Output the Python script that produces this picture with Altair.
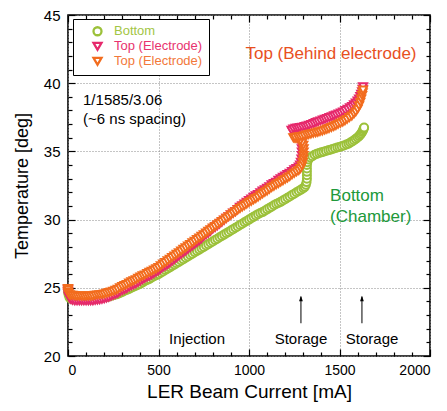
import altair as alt
import pandas as pd

W, H = 362, 341
FONT = "Liberation Sans"

# ---- series ----
series_names = ["Bottom", "Top (Electrode)", "Top (Electrode) "]
series_colors = ["#9cc13a", "#e6296c", "#f26c1e"]
series_shapes = ["circle", "triangle-down", "triangle-down"]

green_x = [0, 0, 3, 8, 15, 25, 37.5, 50, 62.5, 75, 87.5, 100, 112.5, 125, 137.5, 150, 162.5,
           175, 187.5, 200, 212.5, 225, 237.5, 250, 262.5, 275, 287.5, 300, 312.5, 325, 337.5,
           350, 362.5, 375, 387.5, 400, 412.5, 425, 437.5, 450, 462.5, 475, 487.5, 500, 512.5,
           525, 537.5, 550, 562.5, 575, 587.5, 600, 612.5, 625, 637.5, 650, 662.5, 675, 687.5,
           700, 712.5, 725, 737.5, 750, 762.5, 775, 787.5, 800, 812.5, 825, 837.5, 850, 862.5,
           875, 887.5, 900, 912.5, 925, 937.5, 950, 962.5, 975, 987.5, 1000, 1012.5, 1025,
           1037.5, 1050, 1062.5, 1075, 1087.5, 1100, 1112.5, 1125, 1137.5, 1150, 1162.5, 1175,
           1187.5, 1200, 1212.5, 1225, 1237.5, 1250, 1262.5, 1275, 1287.5, 1300, 1308, 1314,
           1318, 1320, 1320, 1320, 1320, 1320, 1322, 1328, 1338, 1350, 1362, 1375, 1388, 1400,
           1412, 1425, 1438, 1450, 1462, 1475, 1488, 1500, 1512, 1525, 1538, 1550, 1560, 1570,
           1580, 1590, 1600, 1608, 1615, 1620, 1625, 1629, 1632, 1634, 1636]
green_y = [24.9, 24.7, 24.5, 24.3, 24.2, 24.15, 24.15, 24.15, 24.15, 24.15, 24.15, 24.15,
           24.15, 24.15, 24.15, 24.2, 24.2, 24.25, 24.28, 24.3, 24.33, 24.35, 24.4, 24.45,
           24.5, 24.55, 24.62, 24.7, 24.78, 24.85, 24.92, 25.0, 25.08, 25.15, 25.22, 25.3,
           25.4, 25.5, 25.58, 25.65, 25.75, 25.85, 25.92, 26.0, 26.1, 26.2, 26.3, 26.4, 26.5,
           26.6, 26.7, 26.8, 26.9, 27.0, 27.1, 27.2, 27.3, 27.4, 27.5, 27.6, 27.7, 27.8, 27.9,
           28.0, 28.1, 28.2, 28.3, 28.4, 28.5, 28.6, 28.7, 28.8, 28.9, 29.0, 29.1, 29.2, 29.3,
           29.4, 29.5, 29.6, 29.7, 29.8, 29.9, 30.0, 30.1, 30.2, 30.3, 30.4, 30.48, 30.55,
           30.65, 30.75, 30.85, 30.95, 31.05, 31.15, 31.22, 31.3, 31.4, 31.5, 31.6, 31.7, 31.8,
           31.9, 32.0, 32.1, 32.2, 32.3, 32.4, 32.55, 32.75, 33.0, 33.25, 33.5, 33.75, 34.0,
           34.2, 34.4, 34.55, 34.65, 34.75, 34.82, 34.88, 34.93, 34.98, 35.03, 35.08, 35.13,
           35.18, 35.23, 35.28, 35.33, 35.38, 35.43, 35.5, 35.57, 35.65, 35.73, 35.82, 35.92,
           36.02, 36.12, 36.22, 36.32, 36.42, 36.52, 36.62, 36.7, 36.75, 36.7, 36.6]

pink_x = [0, 0, 0, 3, 8, 15, 25, 37.5, 50, 62.5, 75, 87.5, 100, 112.5, 125, 137.5, 150, 162.5,
          175, 187.5, 200, 212.5, 225, 237.5, 250, 262.5, 275, 287.5, 300, 312.5, 325, 337.5,
          350, 362.5, 375, 387.5, 400, 412.5, 425, 437.5, 450, 462.5, 475, 487.5, 500, 512.5,
          525, 537.5, 550, 562.5, 575, 587.5, 600, 612.5, 625, 637.5, 650, 662.5, 675, 687.5,
          700, 712.5, 725, 737.5, 750, 762.5, 775, 787.5, 800, 812.5, 825, 837.5, 850, 862.5,
          875, 887.5, 900, 912.5, 925, 937.5, 950, 962.5, 975, 987.5, 1000, 1012.5, 1025,
          1037.5, 1050, 1062.5, 1075, 1087.5, 1100, 1112.5, 1125, 1137.5, 1150, 1162.5, 1175,
          1187.5, 1200, 1212.5, 1225, 1237.5, 1250, 1262.5, 1275, 1282, 1287, 1290, 1292, 1292,
          1292, 1290, 1285, 1275, 1262, 1250, 1240, 1235, 1245, 1258, 1270, 1282, 1295, 1308,
          1320, 1332, 1345, 1358, 1370, 1382, 1395, 1408, 1420, 1432, 1445, 1458, 1470, 1482,
          1495, 1508, 1520, 1532, 1545, 1558, 1570, 1580, 1590, 1600, 1608, 1615, 1620, 1625,
          1628, 1630]
pink_y = [24.9, 24.75, 24.6, 24.4, 24.25, 24.15, 24.08, 24.05, 24.05, 24.05, 24.05, 24.05,
          24.05, 24.05, 24.05, 24.05, 24.08, 24.1, 24.12, 24.15, 24.2, 24.25, 24.3, 24.38,
          24.45, 24.52, 24.6, 24.7, 24.8, 24.88, 24.95, 25.05, 25.15, 25.22, 25.3, 25.4, 25.5,
          25.6, 25.7, 25.78, 25.85, 25.95, 26.05, 26.15, 26.25, 26.38, 26.5, 26.6, 26.7,
          26.82, 26.95, 27.08, 27.2, 27.32, 27.45, 27.58, 27.7, 27.82, 27.95, 28.08, 28.2,
          28.32, 28.45, 28.6, 28.75, 28.88, 29.0, 29.15, 29.3, 29.42, 29.55, 29.68, 29.8,
          29.95, 30.1, 30.22, 30.35, 30.48, 30.6, 30.75, 30.9, 31.02, 31.15, 31.28, 31.4,
          31.52, 31.65, 31.75, 31.85, 31.98, 32.1, 32.2, 32.3, 32.42, 32.55, 32.65, 32.75,
          32.88, 33.0, 33.1, 33.2, 33.3, 33.4, 33.52, 33.65, 33.75, 33.85, 34.0, 34.2, 34.45,
          34.7, 34.95, 35.2, 35.45, 35.7, 35.95, 36.15, 36.3, 36.45, 36.55, 36.65, 36.7, 36.72,
          36.75, 36.78, 36.82, 36.86, 36.92, 36.98, 37.05, 37.12, 37.18, 37.24, 37.3, 37.36,
          37.42, 37.48, 37.55, 37.62, 37.68, 37.75, 37.82, 37.9, 38.0, 38.1, 38.2, 38.3, 38.42,
          38.55, 38.7, 38.85, 39.02, 39.2, 39.38, 39.55, 39.75, 39.95, 40.15, 40.3, 40.4, 40.45]

orange_x = [0, 0, 0, 3, 8, 15, 25, 37.5, 50, 62.5, 75, 87.5, 100, 112.5, 125, 137.5, 150, 162.5,
            175, 187.5, 200, 212.5, 225, 237.5, 250, 262.5, 275, 287.5, 300, 312.5, 325, 337.5,
            350, 362.5, 375, 387.5, 400, 412.5, 425, 437.5, 450, 462.5, 475, 487.5, 500, 512.5,
            525, 537.5, 550, 562.5, 575, 587.5, 600, 612.5, 625, 637.5, 650, 662.5, 675, 687.5,
            700, 712.5, 725, 737.5, 750, 762.5, 775, 787.5, 800, 812.5, 825, 837.5, 850, 862.5,
            875, 887.5, 900, 912.5, 925, 937.5, 950, 962.5, 975, 987.5, 1000, 1012.5, 1025,
            1037.5, 1050, 1062.5, 1075, 1087.5, 1100, 1112.5, 1125, 1137.5, 1150, 1162.5, 1175,
            1187.5, 1200, 1212.5, 1225, 1237.5, 1250, 1262.5, 1275, 1285, 1292, 1297, 1300,
            1302, 1302, 1302, 1300, 1295, 1285, 1272, 1260, 1250, 1245, 1255, 1268, 1280, 1292,
            1305, 1318, 1330, 1342, 1355, 1368, 1380, 1392, 1405, 1418, 1430, 1442, 1455, 1468,
            1480, 1492, 1505, 1518, 1530, 1542, 1555, 1568, 1580, 1590, 1600, 1608, 1615, 1620,
            1625, 1628, 1630]
orange_y = [24.95, 24.85, 24.7, 24.6, 24.5, 24.45, 24.45, 24.42, 24.4, 24.4, 24.4, 24.4, 24.4,
            24.4, 24.4, 24.42, 24.45, 24.48, 24.5, 24.52, 24.55, 24.6, 24.65, 24.7, 24.75,
            24.82, 24.9, 25.0, 25.1, 25.18, 25.25, 25.35, 25.45, 25.52, 25.6, 25.7, 25.8,
            25.88, 25.95, 26.05, 26.15, 26.22, 26.3, 26.4, 26.5, 26.62, 26.74, 26.86, 26.98,
            27.1, 27.22, 27.34, 27.46, 27.58, 27.7, 27.82, 27.94, 28.06, 28.18, 28.3, 28.42,
            28.54, 28.66, 28.78, 28.9, 29.02, 29.14, 29.26, 29.38, 29.5, 29.62, 29.74, 29.86,
            29.98, 30.1, 30.22, 30.34, 30.46, 30.58, 30.7, 30.82, 30.93, 31.04, 31.15, 31.25,
            31.35, 31.45, 31.55, 31.65, 31.78, 31.9, 32.0, 32.1, 32.22, 32.35, 32.45, 32.55,
            32.65, 32.75, 32.85, 32.95, 33.05, 33.15, 33.28, 33.4, 33.5, 33.6, 33.75, 33.95,
            34.2, 34.45, 34.7, 34.95, 35.2, 35.45, 35.65, 35.8, 35.9, 35.95, 35.98, 36.0, 36.02,
            36.05, 36.08, 36.1, 36.15, 36.2, 36.24, 36.28, 36.32, 36.36, 36.4, 36.45, 36.5,
            36.56, 36.62, 36.68, 36.75, 36.82, 36.9, 36.98, 37.06, 37.15, 37.25, 37.35, 37.48,
            37.6, 37.75, 37.9, 38.1, 38.35, 38.6, 38.85, 39.1, 39.3, 39.5, 39.6]

# ---- annotations ----
note_text = ["1/1585/3.06", "(~6 ns spacing)"]
note_x = [83, 83]
note_y = [38.8, 37.4]

top_text = ["Top (Behind electrode)"]
top_x = [1453]
top_y = [42.15]

bottom_text = ["Bottom", "(Chamber)"]
bottom_x = [1448, 1448]
bottom_y = [31.7, 30.2]

phase_text = ["Injection", "Storage", "Storage"]
phase_x = [713, 1287, 1680]
phase_y = [21.25, 21.25, 21.25]

arrow_x = [1287, 1624]
arrow_y0 = [22.4, 22.4]
arrow_y1 = [24.35, 24.35]

x_major = [0, 500, 1000, 1500, 2000]
y_major = [20, 25, 30, 35, 40, 45]
x_ticks = list(range(0, 2001, 100))
y_ticks = list(range(20, 46, 1))

# ---- tables ----
rows = []
for name, xs_, ys_ in [(series_names[0], green_x, green_y),
                       (series_names[1], pink_x, pink_y),
                       (series_names[2], orange_x, orange_y)]:
    for a, b in zip(xs_, ys_):
        rows.append({"series": name, "current": a, "temp": b, "k": len(rows)})
df = pd.DataFrame(rows)

notes = pd.DataFrame({"t": note_text, "x": note_x, "y": note_y})
tops = pd.DataFrame({"t": top_text, "x": top_x, "y": top_y})
bots = pd.DataFrame({"t": bottom_text, "x": bottom_x, "y": bottom_y})
phases = pd.DataFrame({"t": phase_text, "x": phase_x, "y": phase_y})
arrows = pd.DataFrame({"x": arrow_x, "y0": arrow_y0, "y1": arrow_y1})

xsc = alt.Scale(domain=[0, 2000], nice=False, zero=False)
ysc = alt.Scale(domain=[20, 45], nice=False, zero=False)

label_color_expr = ("datum.value == 'Bottom' ? '#a3c545' : "
                    "(datum.value == 'Top (Electrode)' ? '#e8336f' : '#f2783a')")

leg = alt.Legend(title=None, orient="none", legendX=5, legendY=4,
                 strokeColor="black", fillColor="white", padding=6,
                 symbolOffset=12, labelOffset=10, rowPadding=1, clipHeight=12.5,
                 labelFont=FONT, labelFontSize=13,
                 labelColor={"expr": label_color_expr},
                 symbolFillColor="white", symbolStrokeWidth=2.3, symbolSize=64)

main_x_axis = alt.Axis(values=x_major, format="d", title="LER Beam Current [mA]",
                       ticks=False, domain=False, grid=True, gridColor="#8a8a8a",
                       gridDash=[1, 2], gridWidth=1, labelFont=FONT, labelFontSize=14,
                       labelPadding=7, labelColor="black", titleFont=FONT, titleFontSize=19,
                       titleFontWeight="normal", titleColor="black", titlePadding=5)
main_y_axis = alt.Axis(values=y_major, format="d", title="Temperature [deg]", ticks=False,
                       domain=False, grid=True, gridColor="#8a8a8a", gridDash=[1, 2],
                       gridWidth=1, labelFont=FONT, labelFontSize=15, labelPadding=8,
                       labelColor="black", titleFont=FONT, titleFontSize=18,
                       titleFontWeight="normal", titleColor="black", titlePadding=12)

xtick_cond = {"condition": {"test": "datum.value % 500 === 0", "value": 7}, "value": 4}
ytick_cond = {"condition": {"test": "datum.value % 5 === 0", "value": 7}, "value": 4}


def tick_axis(values, orient, offset, cond):
    return alt.Axis(values=values, orient=orient, offset=offset, labels=False,
                    domain=False, grid=False, ticks=True, tickColor="black",
                    tickWidth=1.2, tickSize=cond, title=None)


points = alt.Chart(df).mark_point(fill="white", fillOpacity=1, opacity=1,
                                  strokeWidth=2, size=64).encode(
    x=alt.X("current:Q", scale=xsc, axis=main_x_axis),
    y=alt.Y("temp:Q", scale=ysc, axis=main_y_axis),
    stroke=alt.Stroke("series:N", scale=alt.Scale(domain=series_names, range=series_colors),
                      legend=leg),
    shape=alt.Shape("series:N", scale=alt.Scale(domain=series_names, range=series_shapes),
                    legend=leg),
    order=alt.Order("k:Q"),
)

arrow_lines = alt.Chart(arrows).mark_rule(color="black", strokeWidth=1).encode(
    x=alt.X("x:Q", scale=xsc, axis=tick_axis(x_ticks, "top", -H, xtick_cond)),
    y=alt.Y("y0:Q", scale=ysc, axis=tick_axis(y_ticks, "right", -W, ytick_cond)),
    y2="y1:Q",
)

arrow_heads = alt.Chart(arrows).mark_point(
    shape="M0,-0.2L-0.45,1.1L0.45,1.1Z", filled=True, fill="black", color="black",
    size=70, opacity=1).encode(
    x=alt.X("x:Q", scale=xsc, axis=tick_axis(x_ticks, "bottom", -H, xtick_cond)),
    y=alt.Y("y1:Q", scale=ysc, axis=tick_axis(y_ticks, "left", -W, ytick_cond)),
)


def text_layer(data, color, size, align):
    return alt.Chart(data).mark_text(font=FONT, fontSize=size, color=color,
                                     align=align, baseline="middle").encode(
        x=alt.X("x:Q", scale=xsc, axis=None),
        y=alt.Y("y:Q", scale=ysc, axis=None),
        text="t:N",
    )


chart = alt.layer(
    points,
    arrow_lines,
    arrow_heads,
    text_layer(notes, "black", 15, "left"),
    text_layer(tops, "#e8501e", 17, "center"),
    text_layer(bots, "#20993a", 17, "left"),
    text_layer(phases, "black", 15, "center"),
).resolve_axis(x="independent", y="independent").properties(
    width=W, height=H,
    autosize=alt.AutoSizeParams(type="none"),
    padding={"left": 60, "top": 7, "right": 9, "bottom": 47},
    background="white",
).configure_view(stroke="black", strokeWidth=1.6)

chart.save("out.html", embed_options={"renderer": "svg", "actions": False})
